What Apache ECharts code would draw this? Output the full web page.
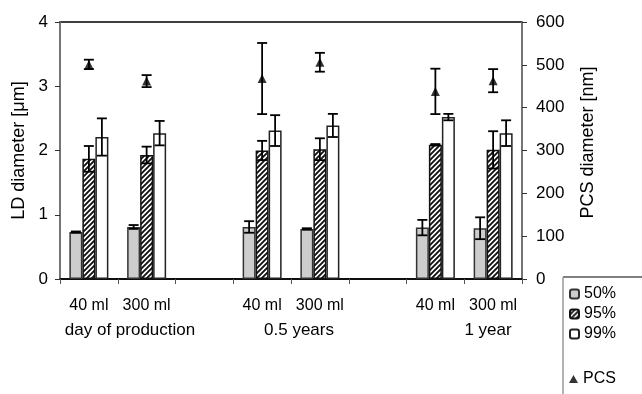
<!DOCTYPE html>
<html>
<head>
<meta charset="utf-8">
<script src="https://cdn.jsdelivr.net/npm/echarts@6/dist/echarts.min.js"></script>
<style>
html,body{margin:0;padding:0;background:#fff;}
#chart{width:642px;height:394px;}
</style>
</head>
<body>
<div id="chart"></div>
<script>
// ---- data ----
const categories = ['40 ml', '300 ml', '', '40 ml', '300 ml', '', '40 ml', '300 ml'];
const groupLabels = ['day of production', '0.5 years', '1 year'];
const ld50    = [0.73, 0.81, null, 0.81, 0.78, null, 0.80, 0.79];
const ld50Err = [0.01, 0.03, null, 0.09, 0.01, null, 0.12, 0.17];
const ld95    = [1.87, 1.93, null, 2.00, 2.02, null, 2.09, 2.01];
const ld95Err = [0.20, 0.13, null, 0.15, 0.17, null, 0.01, 0.29];
const ld99    = [2.21, 2.27, null, 2.31, 2.39, null, 2.52, 2.27];
const ld99Err = [0.29, 0.19, null, 0.24, 0.18, null, 0.05, 0.20];
const pcs     = [501, 462, null, 468, 506, null, 438, 463];
const pcsErr  = [11, 14, null, 83, 22, null, 53, 27];
const ldTicks = [0, 1, 2, 3, 4];
const pcsTicks = [0, 100, 200, 300, 400, 500, 600];

// ---- styling / layout ----
const FONT = 'Liberation Sans, Arial, sans-serif';
const groupLabelX = [130, 299, 488];
const BAR_W = 13;

const pat = document.createElement('canvas');
pat.width = 5; pat.height = 5;
const pc = pat.getContext('2d');
pc.fillStyle = '#fff'; pc.fillRect(0, 0, 5, 5);
pc.strokeStyle = '#111'; pc.lineWidth = 1.9;
pc.beginPath();
pc.moveTo(-1, 6); pc.lineTo(6, -1);
pc.moveTo(-3.5, 3.5); pc.lineTo(3.5, -3.5);
pc.moveTo(1.5, 8.5); pc.lineTo(8.5, 1.5);
pc.stroke();

function toTriples(vals, errs) {
  const out = [];
  vals.forEach((v, i) => { if (v != null) out.push([i, v, errs[i]]); });
  return out;
}
function errSeries(vals, errs, offset, yIdx) {
  return {
    type: 'custom',
    yAxisIndex: yIdx,
    z: 10,
    silent: true,
    data: toTriples(vals, errs),
    renderItem: function (params, api) {
      const i = api.value(0), v = api.value(1), e = api.value(2);
      const hi = api.coord([i, v + e]);
      const lo = api.coord([i, v - e]);
      const x = hi[0] + offset;
      const w = 5;
      const st = { stroke: '#000', lineWidth: 1.8 };
      return {
        type: 'group',
        children: [
          { type: 'line', shape: { x1: x, y1: hi[1], x2: x, y2: lo[1] }, style: st },
          { type: 'line', shape: { x1: x - w, y1: hi[1], x2: x + w, y2: hi[1] }, style: st },
          { type: 'line', shape: { x1: x - w, y1: lo[1], x2: x + w, y2: lo[1] }, style: st }
        ]
      };
    }
  };
}

const graphics = [];
groupLabels.forEach((g, i) => {
  graphics.push({ type: 'text', x: groupLabelX[i], y: 330, style: { text: g, font: '17px ' + FONT, fill: '#000', textAlign: 'center', textVerticalAlign: 'middle' } });
});
// legend box lines
graphics.push({ type: 'line', shape: { x1: 563, y1: 277, x2: 642, y2: 277 }, style: { stroke: '#000', lineWidth: 1 } });
graphics.push({ type: 'line', shape: { x1: 563, y1: 277, x2: 563, y2: 394 }, style: { stroke: '#999', lineWidth: 1.5 } });

const chart = echarts.init(document.getElementById('chart'), null, { renderer: 'canvas' });
chart.setOption({
  animation: false,
  backgroundColor: '#fff',
  textStyle: { fontFamily: FONT },
  grid: { left: 60, right: 120, top: 22, bottom: 115, show: true, borderColor: '#000', borderWidth: 1.5 },
  legend: [
    {
      data: ['50%', '95%', '99%'],
      orient: 'vertical', left: 564, top: 281, itemWidth: 9, itemHeight: 9, itemGap: 4,
      textStyle: { fontSize: 16, color: '#000', fontFamily: FONT },
      selectedMode: false
    },
    {
      data: [{ name: 'PCS', icon: 'triangle' }],
      orient: 'vertical', left: 564, top: 366, itemWidth: 9, itemHeight: 8,
      textStyle: { fontSize: 16, color: '#000', fontFamily: FONT },
      selectedMode: false
    }
  ],
  xAxis: {
    type: 'category',
    data: categories,
    axisLine: { lineStyle: { color: '#000', width: 1.5 } },
    axisTick: { show: true, length: 5, lineStyle: { color: '#555' } },
    axisLabel: { show: true, interval: 0, fontSize: 16, color: '#000', margin: 19, fontFamily: FONT },
    splitLine: { show: false }
  },
  yAxis: [
    {
      type: 'value', min: 0, max: 4, interval: 1,
      name: 'LD diameter [\u03bcm]', nameLocation: 'middle', nameGap: 26,
      nameTextStyle: { fontSize: 18, color: '#000', fontFamily: FONT },
      axisLine: { show: true, lineStyle: { color: '#888', width: 1.5 } },
      axisTick: { show: true, length: 5, lineStyle: { color: '#333' } },
      axisLabel: { fontSize: 17, color: '#000', margin: 12, fontFamily: FONT },
      splitLine: { show: false }
    },
    {
      type: 'value', min: 0, max: 600, interval: 100,
      name: 'PCS diameter [nm]', nameLocation: 'middle', nameGap: 57,
      nameTextStyle: { fontSize: 18, color: '#000', fontFamily: FONT, padding: [0, 0, 0, 16] },
      axisLine: { show: true, lineStyle: { color: '#888', width: 1.5 } },
      axisTick: { show: true, length: 5, lineStyle: { color: '#333' } },
      axisLabel: { fontSize: 17, color: '#000', margin: 14, fontFamily: FONT },
      splitLine: { show: false }
    }
  ],
  graphic: graphics,
  series: [
    { name: '50%', type: 'bar', data: ld50, barWidth: BAR_W, barGap: '0%',
      itemStyle: { color: '#cdcdcd', borderColor: '#333', borderWidth: 1.5 } },
    { name: '95%', type: 'bar', data: ld95, barWidth: BAR_W, barGap: '0%',
      itemStyle: { color: { image: pat, repeat: 'repeat' }, borderColor: '#111', borderWidth: 1.5 } },
    { name: '99%', type: 'bar', data: ld99, barWidth: BAR_W, barGap: '0%',
      itemStyle: { color: '#fff', borderColor: '#222', borderWidth: 1.5 } },
    errSeries(ld50, ld50Err, -BAR_W, 0),
    errSeries(ld95, ld95Err, 0, 0),
    errSeries(ld99, ld99Err, BAR_W, 0),
    errSeries(pcs, pcsErr, 0, 1),
    { name: 'PCS', type: 'scatter', yAxisIndex: 1, data: pcs, symbol: 'triangle', symbolSize: 9, z: 11,
      itemStyle: { color: '#000' } }
  ]
});
</script>
</body>
</html>
